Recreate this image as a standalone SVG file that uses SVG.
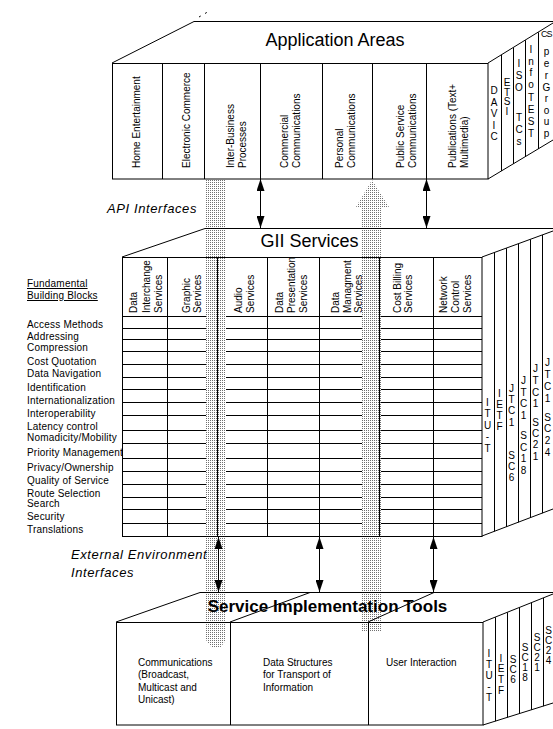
<svg xmlns="http://www.w3.org/2000/svg" width="553" height="729" viewBox="0 0 553 729">
<style>
  text { font-family: "Liberation Sans", Arial, sans-serif; fill: #000; }
  .s { font-size: 10px; }
  .lbl { font-size: 10px; letter-spacing: 0.2px; }
  .ttl { font-size: 18px; }
  .ttlb { font-size: 17px; font-weight: bold; }
  .it { font-size: 13px; font-style: italic; letter-spacing: 0.6px; }
  .stk { font-size: 10px; text-anchor: middle; }
  .ln { stroke: #000; stroke-width: 1; fill: none; }
  .face { fill: #fff; stroke: #000; stroke-width: 1; }
  .dot { fill: url(#dots); stroke: none; }
</style>
<defs>
  <pattern id="dots" width="2" height="2" patternUnits="userSpaceOnUse">
    <rect width="2" height="2" fill="#fff"/>
    <rect width="1" height="1" fill="#707070"/>
  </pattern>
  <marker id="ah" markerUnits="userSpaceOnUse" markerWidth="12" markerHeight="8" viewBox="0 0 12 8" refX="12" refY="4" orient="auto-start-reverse">
    <path d="M0,0 L12,4 L0,8 z" fill="#000"/>
  </marker>
</defs>
<rect width="553" height="729" fill="#fff"/>

<!-- GII table internals (under the dotted strips) -->
<g id="gii-table">
  <g class="ln">
    <path d="M122,316.5H482 M122,328.5H482 M122,339.5H482 M122,351.5H482 M122,364.5H482 M122,377.5H482 M122,389.5H482 M122,402.5H482 M122,415.5H482 M122,430.5H482 M122,443.5H482 M122,458.5H482 M122,471.5H482 M122,484.5H482 M122,497.5H482 M122,509.5H482 M122,523.5H482"/>
  </g>
  <g class="s">
    <text transform="translate(136.5,313) rotate(-90)">Data</text>
    <text transform="translate(149.5,313) rotate(-90)">Interchange</text>
    <text transform="translate(161.5,313) rotate(-90)">Services</text>
    <text transform="translate(189.5,313) rotate(-90)">Graphic</text>
    <text transform="translate(201,313) rotate(-90)">Services</text>
    <text transform="translate(241.5,313) rotate(-90)">Audio</text>
    <text transform="translate(253.5,313) rotate(-90)">Services</text>
    <text transform="translate(282.5,313) rotate(-90)">Data</text>
    <text transform="translate(294.5,313) rotate(-90)">Presentation</text>
    <text transform="translate(306.5,313) rotate(-90)">Services</text>
    <text transform="translate(338.5,313) rotate(-90)">Data</text>
    <text transform="translate(350.5,313) rotate(-90)">Managment</text>
    <text transform="translate(361.5,313) rotate(-90)">Services</text>
    <text transform="translate(400.5,313) rotate(-90)">Cost  Billing</text>
    <text transform="translate(411.5,313) rotate(-90)">Services</text>
    <text transform="translate(446.5,313) rotate(-90)">Network</text>
    <text transform="translate(458.5,313) rotate(-90)">Control</text>
    <text transform="translate(471,313) rotate(-90)">Services</text>
  </g>
</g>

<!-- dotted flows -->
<g id="connectors-dotted">
  <polygon class="dot" points="206,179 226,179 226,640 220,648 212,648 206,640"/>
  <polygon class="dot" points="372,180 389,207 381,207 381,632 362,632 362,207 356,207"/>
</g>

<!-- Application Areas -->
<g id="application-areas">
  <path class="ln" d="M112,63 L194,21.5 H553 M488,63 L553,23 M488,179 L553,140"/>
  <path class="ln" stroke-dasharray="2,5" d="M199,17 L211,10"/>
  <rect class="face" x="112.5" y="63.5" width="375.5" height="115.5" fill="none"/>
  <path class="ln" d="M162.5,63.5V179 M204.5,63.5V179 M260.5,63.5V179 M322.5,63.5V179 M372.5,63.5V179 M426.5,63.5V179"/>
  <path class="ln" d="M501.5,55V171 M513.5,47.6V164 M525.5,40.2V156.8 M538.5,32.3V149"/>
  <text class="ttl" x="335" y="46" text-anchor="middle">Application Areas</text>
  <g class="s">
    <text transform="translate(139.5,168) rotate(-90)">Home Entertainment</text>
    <text transform="translate(189.5,168) rotate(-90)">Electronic Commerce</text>
    <text transform="translate(233.5,168) rotate(-90)">Inter-Business</text>
    <text transform="translate(245.5,168) rotate(-90)">Processes</text>
    <text transform="translate(288,168) rotate(-90)">Commercial</text>
    <text transform="translate(300,168) rotate(-90)">Communications</text>
    <text transform="translate(343,168) rotate(-90)">Personal</text>
    <text transform="translate(355,168) rotate(-90)">Communications</text>
    <text transform="translate(404,168) rotate(-90)">Public Service</text>
    <text transform="translate(416,168) rotate(-90)">Communications</text>
    <text transform="translate(455.5,168) rotate(-90)">Publications (Text+</text>
    <text transform="translate(467.5,168) rotate(-90)">Multimedia)</text>
  </g>
  <text class="stk"><tspan x="494" y="94">D</tspan><tspan x="494" y="105.5">A</tspan><tspan x="494" y="117">V</tspan><tspan x="494" y="128.5">I</tspan><tspan x="494" y="140">C</tspan></text>
  <text class="stk"><tspan x="507" y="86">E</tspan><tspan x="507" y="95.5">T</tspan><tspan x="507" y="105">S</tspan><tspan x="507" y="114.5">I</tspan></text>
  <text class="stk"><tspan x="519" y="67">I</tspan><tspan x="519" y="79">S</tspan><tspan x="519" y="91">O</tspan><tspan x="519" y="121">T</tspan><tspan x="519" y="133">C</tspan><tspan x="519" y="145">s</tspan></text>
  <text class="stk"><tspan x="531" y="53">I</tspan><tspan x="531" y="65">n</tspan><tspan x="531" y="76">f</tspan><tspan x="531" y="88">o</tspan><tspan x="531" y="101">T</tspan><tspan x="531" y="113">E</tspan><tspan x="531" y="125">S</tspan><tspan x="531" y="137">T</tspan></text>
  <text x="541" y="37" font-size="9" letter-spacing="-1">CS</text>
  <text class="stk"><tspan x="546.5" y="55">p</tspan><tspan x="546.5" y="67">e</tspan><tspan x="546.5" y="79">r</tspan><tspan x="546.5" y="91">G</tspan><tspan x="546.5" y="102">r</tspan><tspan x="546.5" y="114">o</tspan><tspan x="546.5" y="125">u</tspan><tspan x="546.5" y="137">p</tspan></text>
</g>

<!-- GII Services -->
<g id="gii-services">
  <path class="ln" d="M122,257 L205,228.5 H553 M482,257 L553,231 M482,536 L553,509"/>
  <rect x="122.5" y="257.5" width="359.5" height="279" fill="none" stroke="#000"/>
  <path class="ln" d="M167.5,257.5V536 M217.5,257.5V536 M267.5,257.5V536 M319.5,257.5V536 M379.5,257.5V536 M433.5,257.5V536"/>
  <path class="ln" d="M494.5,252.6V531.4 M506.5,248.2V526.9 M518.5,243.8V522.3 M530.5,239.4V517.8 M542.5,235V513.2"/>
  <text class="ttl" x="309.5" y="247" text-anchor="middle">GII Services</text>
  <text class="stk"><tspan x="487.5" y="405.5">I</tspan><tspan x="487.5" y="417">T</tspan><tspan x="487.5" y="428.5">U</tspan><tspan x="487.5" y="440">-</tspan><tspan x="487.5" y="451.5">T</tspan></text>
  <text class="stk"><tspan x="499.5" y="396.5">I</tspan><tspan x="499.5" y="407.5">E</tspan><tspan x="499.5" y="418.5">T</tspan><tspan x="499.5" y="430">F</tspan></text>
  <text class="stk"><tspan x="511.5" y="391.5">J</tspan><tspan x="511.5" y="402.5">T</tspan><tspan x="511.5" y="414">C</tspan><tspan x="511.5" y="425.5">1</tspan><tspan x="511.5" y="458.5">S</tspan><tspan x="511.5" y="470">C</tspan><tspan x="511.5" y="481">6</tspan></text>
  <text class="stk"><tspan x="523.5" y="383.5">J</tspan><tspan x="523.5" y="395.5">T</tspan><tspan x="523.5" y="407">C</tspan><tspan x="523.5" y="418.5">1</tspan><tspan x="523.5" y="438.5">S</tspan><tspan x="523.5" y="450.5">C</tspan><tspan x="523.5" y="462">1</tspan><tspan x="523.5" y="473.5">8</tspan></text>
  <text class="stk"><tspan x="535.5" y="371.5">J</tspan><tspan x="535.5" y="383.5">T</tspan><tspan x="535.5" y="395.5">C</tspan><tspan x="535.5" y="407">1</tspan><tspan x="535.5" y="425.5">S</tspan><tspan x="535.5" y="437">C</tspan><tspan x="535.5" y="448">2</tspan><tspan x="535.5" y="459.5">1</tspan></text>
  <text class="stk"><tspan x="547.5" y="365.5">J</tspan><tspan x="547.5" y="377.5">T</tspan><tspan x="547.5" y="389.5">C</tspan><tspan x="547.5" y="401.5">1</tspan><tspan x="547.5" y="420.5">S</tspan><tspan x="547.5" y="431.5">C</tspan><tspan x="547.5" y="443.5">2</tspan><tspan x="547.5" y="455.5">4</tspan></text>
</g>

<!-- Fundamental Building Blocks -->
<g id="building-blocks" class="lbl">
  <text x="27" y="287" text-decoration="underline">Fundamental</text>
  <text x="27" y="299" text-decoration="underline">Building Blocks</text>
  <text x="27" y="328">Access Methods</text>
  <text x="27" y="340">Addressing</text>
  <text x="27" y="351">Compression</text>
  <text x="27" y="365">Cost Quotation</text>
  <text x="27" y="377">Data Navigation</text>
  <text x="27" y="391">Identification</text>
  <text x="27" y="404">Internationalization</text>
  <text x="27" y="417">Interoperability</text>
  <text x="27" y="430">Latency control</text>
  <text x="27" y="441">Nomadicity/Mobility</text>
  <text x="27" y="456">Priority Management</text>
  <text x="27" y="471">Privacy/Ownership</text>
  <text x="27" y="484">Quality of Service</text>
  <text x="27" y="497">Route Selection</text>
  <text x="27" y="507">Search</text>
  <text x="27" y="520">Security</text>
  <text x="27" y="533">Translations</text>
</g>

<!-- Service Implementation Tools -->
<g id="service-implementation-tools">
  <path class="ln" d="M116,622 L200,592.5 H553 M230,622 L310,592.5 M368,622 L434,592.5 M483,622 L553,594 M483,725 L553,703"/>
  <rect x="116.5" y="622.5" width="366.5" height="102.5" fill="none" stroke="#000"/>
  <path class="ln" d="M230.5,622.5V725 M368.5,622.5V725"/>
  <path class="ln" d="M495.5,617.2V721.2 M507.5,612.4V717.5 M519.5,607.6V713.7 M531.5,602.8V709.9 M543.5,598V706.2"/>
  <text class="ttlb" x="327.5" y="612" text-anchor="middle">Service Implementation Tools</text>
  <g class="s">
    <text x="138" y="666">Communications</text>
    <text x="138" y="678">(Broadcast,</text>
    <text x="138" y="690.5">Multicast and</text>
    <text x="138" y="702.5">Unicast)</text>
    <text x="263" y="666">Data Structures</text>
    <text x="263" y="678">for Transport of</text>
    <text x="263" y="690.5">Information</text>
    <text x="386" y="666">User Interaction</text>
  </g>
  <text class="stk"><tspan x="489" y="657">I</tspan><tspan x="489" y="668">T</tspan><tspan x="489" y="679">U</tspan><tspan x="489" y="690">-</tspan><tspan x="489" y="701">T</tspan></text>
  <text class="stk"><tspan x="501" y="662">I</tspan><tspan x="501" y="672">E</tspan><tspan x="501" y="683">T</tspan><tspan x="501" y="694">F</tspan></text>
  <text class="stk"><tspan x="513" y="663">S</tspan><tspan x="513" y="673">C</tspan><tspan x="513" y="683">6</tspan></text>
  <text class="stk"><tspan x="525" y="651">S</tspan><tspan x="525" y="661">C</tspan><tspan x="525" y="671">1</tspan><tspan x="525" y="681">8</tspan></text>
  <text class="stk"><tspan x="537" y="641">S</tspan><tspan x="537" y="651">C</tspan><tspan x="537" y="661">2</tspan><tspan x="537" y="671">1</tspan></text>
  <text class="stk"><tspan x="548.5" y="634">S</tspan><tspan x="548.5" y="644">C</tspan><tspan x="548.5" y="654">2</tspan><tspan x="548.5" y="664">4</tspan></text>
</g>

<!-- interface labels -->
<g id="interface-labels" class="it">
  <text x="107" y="213">API Interfaces</text>
  <text x="71" y="559">External Environment</text>
  <text x="71" y="577">Interfaces</text>
</g>

<!-- connectors -->
<g id="connectors" class="ln" marker-start="url(#ah)" marker-end="url(#ah)">
  <line x1="260.5" y1="179" x2="260.5" y2="228"/>
  <line x1="426.5" y1="179" x2="426.5" y2="228"/>
  <line x1="218.5" y1="537" x2="218.5" y2="592"/>
  <line x1="319.5" y1="537" x2="319.5" y2="592"/>
  <line x1="433.5" y1="537" x2="433.5" y2="592"/>
</g>
</svg>
